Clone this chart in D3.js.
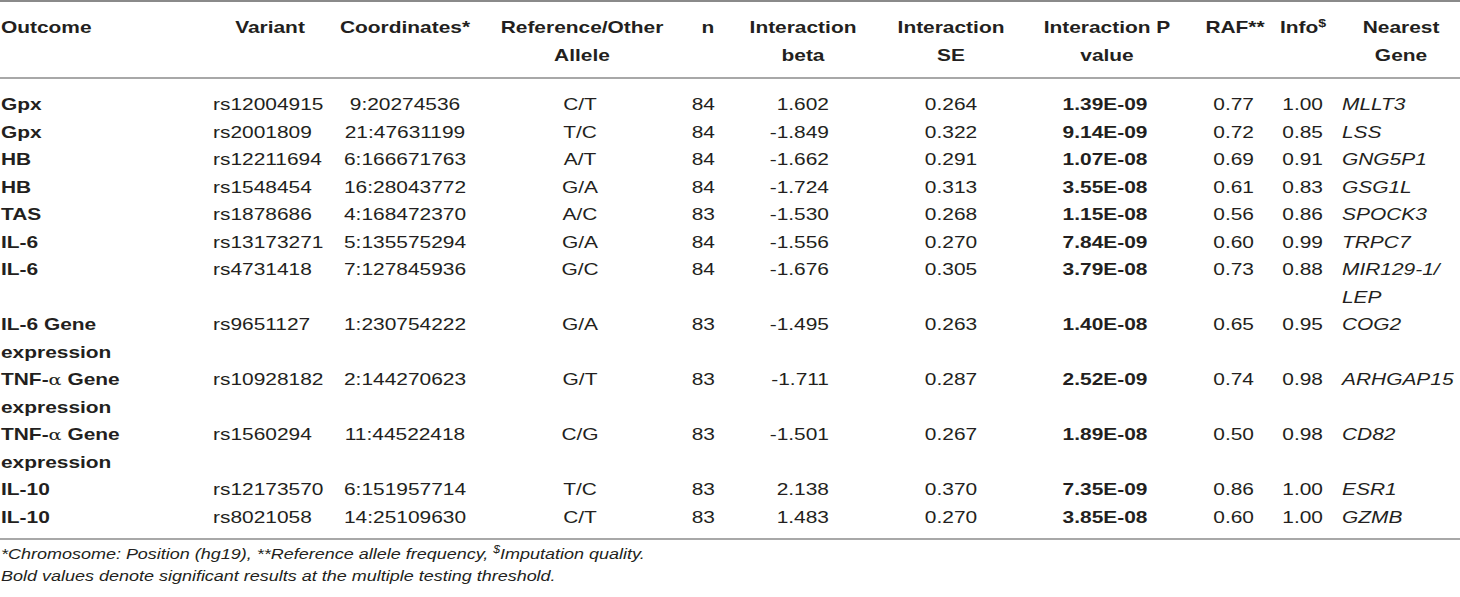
<!DOCTYPE html>
<html>
<head>
<meta charset="utf-8">
<script src="https://cdn.jsdelivr.net/npm/d3@7"></script>
<style>
  html, body { margin: 0; padding: 0; background: #fff; }
  svg { display: block; }
</style>
</head>
<body>
<div class="table-chart"></div>
<script>
// table values ("|" = line break)
const outcomes = ["Gpx", "Gpx", "HB", "HB", "TAS", "IL-6", "IL-6", "IL-6 Gene|expression",
  "TNF-α Gene|expression", "TNF-α Gene|expression", "IL-10", "IL-10"]
const variants = ["rs12004915", "rs2001809", "rs12211694", "rs1548454", "rs1878686", "rs13173271",
  "rs4731418", "rs9651127", "rs10928182", "rs1560294", "rs12173570", "rs8021058"]
const coords = ["9:20274536", "21:47631199", "6:166671763", "16:28043772", "4:168472370", "5:135575294",
  "7:127845936", "1:230754222", "2:144270623", "11:44522418", "6:151957714", "14:25109630"]
const alleles = ["C/T", "T/C", "A/T", "G/A", "A/C", "G/A", "G/C", "G/A", "G/T", "C/G", "T/C", "C/T"]
const ns = [84, 84, 84, 84, 83, 84, 84, 83, 83, 83, 83, 83]
const betas = ["1.602", "-1.849", "-1.662", "-1.724", "-1.530", "-1.556", "-1.676", "-1.495", "-1.711", "-1.501", "2.138", "1.483"]
const ses = ["0.264", "0.322", "0.291", "0.313", "0.268", "0.270", "0.305", "0.263", "0.287", "0.267", "0.370", "0.270"]
const pvals = ["1.39E-09", "9.14E-09", "1.07E-08", "3.55E-08", "1.15E-08", "7.84E-09", "3.79E-08", "1.40E-08",
  "2.52E-09", "1.89E-08", "7.35E-09", "3.85E-08"]
const rafs = ["0.77", "0.72", "0.69", "0.61", "0.56", "0.60", "0.73", "0.65", "0.74", "0.50", "0.86", "0.60"]
const infos = ["1.00", "0.85", "0.91", "0.83", "0.86", "0.99", "0.88", "0.95", "0.98", "0.98", "1.00", "1.00"]
const genes = ["MLLT3", "LSS", "GNG5P1", "GSG1L", "SPOCK3", "TRPC7", "MIR129-1/|LEP", "COG2", "ARHGAP15", "CD82", "ESR1", "GZMB"]
const notes = ["*Chromosome: Position (hg19), **Reference allele frequency, $Imputation quality.",
  "Bold values denote significant results at the multiple testing threshold."]

const width = 1460, height = 597
const SX = 1.23 // the picture is stretched sideways
const ink = "#231f20"
const font = "'Liberation Sans', Arial, Helvetica, sans-serif"

const svg = d3.select(".table-chart").append("svg")
  .attr("width", width).attr("height", height)

// columns: header lines, x, anchor for header and cells
const columns = [
  { head: ["Outcome"], hx: 1, ha: "start", x: 1, a: "start", vals: outcomes, weight: "bold" },
  { head: ["Variant"], hx: 270, ha: "middle", x: 213, a: "start", vals: variants },
  { head: ["Coordinates*"], hx: 405, ha: "middle", x: 405, a: "middle", vals: coords },
  { head: ["Reference/Other", "Allele"], hx: 582, ha: "middle", x: 580, a: "middle", vals: alleles },
  { head: ["n"], hx: 708, ha: "middle", x: 715, a: "end", vals: ns },
  { head: ["Interaction", "beta"], hx: 803, ha: "middle", x: 829, a: "end", vals: betas },
  { head: ["Interaction", "SE"], hx: 951, ha: "middle", x: 951, a: "middle", vals: ses },
  { head: ["Interaction P", "value"], hx: 1107, ha: "middle", x: 1105, a: "middle", vals: pvals, weight: "bold" },
  { head: ["RAF**"], hx: 1235, ha: "middle", x: 1254, a: "end", vals: rafs },
  { head: ["Info$"], hx: 1303, ha: "middle", x: 1323, a: "end", vals: infos },
  { head: ["Nearest", "Gene"], hx: 1401, ha: "middle", x: 1342, a: "start", vals: genes, style: "italic" }
]

// row -> first line index
let lineStart = [], cnt = 0
outcomes.forEach((d, i) => {
  lineStart.push(cnt)
  let lines = Math.max(...columns.map(c => String(c.vals[i]).split("|").length))
  cnt += lines
})
const y = d3.scaleLinear().domain([0, cnt - 1]).range([110, 523])
const yHead = d3.scaleLinear().domain([0, 1]).range([33, 61])

function put(g, x, yy, anchor, size, sx) {
  return g.append("text")
    .attr("transform", `translate(${x},${yy}) scale(${sx},1)`)
    .attr("text-anchor", anchor)
    .attr("font-family", font)
    .attr("font-size", size)
    .attr("fill", ink)
}

// fill a text with tspans, "$" becomes a superscript and "α" a serif glyph
function fill(t, str) {
  let parts = str.split(/(\$|α)/).filter(s => s.length)
  let lift = 0
  parts.forEach(p => {
    if (p === "$") {
      t.append("tspan").attr("dy", -6).attr("font-size", "0.68em").text("$")
      lift = 6
    } else if (p === "α") {
      t.append("tspan").attr("dy", lift).attr("font-family", "'DejaVu Serif', 'Liberation Serif', serif")
        .attr("font-weight", "normal").attr("font-size", "0.92em").text("α")
      lift = 0
    } else {
      t.append("tspan").attr("dy", lift).text(p)
      lift = 0
    }
  })
}

// rules
const rules = [{ y: 1, c: "#8a8a8a" }, { y: 78, c: "#a8a8a8" }, { y: 539, c: "#a8a8a8" }]
svg.append("g").selectAll("line").data(rules).enter().append("line")
  .attr("x1", 0).attr("x2", width)
  .attr("y1", d => d.y).attr("y2", d => d.y)
  .attr("stroke", d => d.c).attr("stroke-width", 2)

// header
const head = svg.append("g")
columns.forEach(c => {
  c.head.forEach((h, k) => {
    let t = put(head, c.hx, yHead(k), c.ha, 17, SX).attr("font-weight", "bold")
    fill(t, h)
  })
})

// body
const body = svg.append("g")
columns.forEach(c => {
  c.vals.forEach((v, i) => {
    String(v).split("|").forEach((s, k) => {
      let t = put(body, c.x, y(lineStart[i] + k), c.a, 17, SX)
        .attr("font-weight", c.weight || "normal")
        .attr("font-style", c.style || "normal")
      fill(t, s)
    })
  })
})

// footnotes
const foot = svg.append("g")
notes.forEach((n, k) => {
  let t = put(foot, 1, 559 + k * 21.5, "start", 15, 1.2)
    .attr("font-style", "italic")
  fill(t, n)
})
</script>
</body>
</html>
